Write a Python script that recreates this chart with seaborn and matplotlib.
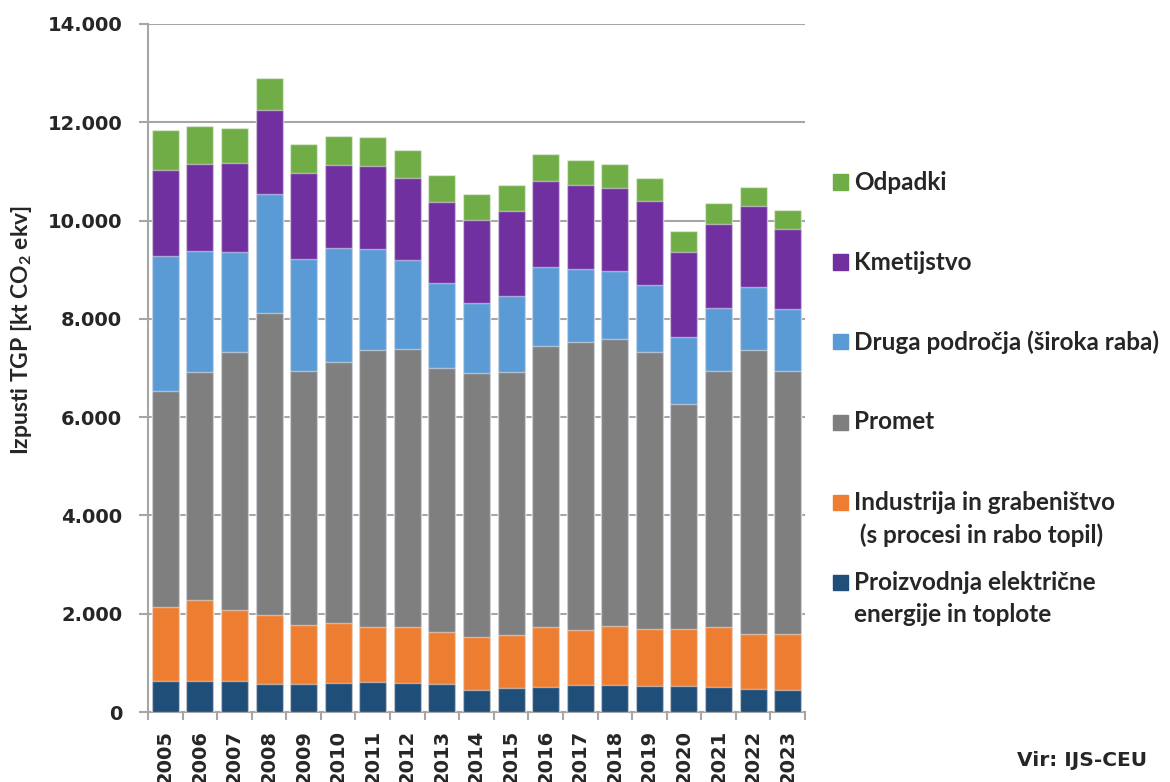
import numpy as np
import pandas as pd
import matplotlib
matplotlib.use("Agg")
import matplotlib.pyplot as plt
import seaborn as sns
from matplotlib.patches import Rectangle
from matplotlib.ticker import FuncFormatter, MultipleLocator

# Data (kt CO2 ekv)
years = [str(y) for y in range(2005, 2024)]
elektrika = [630, 637, 625, 570, 577, 597, 617, 590, 577, 455, 488, 515, 543, 556, 536, 536, 502, 462, 448]
industrija = [1507, 1643, 1455, 1395, 1203, 1223, 1103, 1130, 1053, 1065, 1085, 1215, 1127, 1201, 1159, 1159, 1235, 1118, 1132]
promet = [4389, 4633, 5240, 6161, 5150, 5296, 5653, 5660, 5360, 5370, 5352, 5720, 5850, 5828, 5625, 4565, 5208, 5780, 5350]
druga = [2744, 2477, 2050, 2409, 2295, 2319, 2047, 1810, 1730, 1430, 1540, 1610, 1490, 1390, 1370, 1370, 1270, 1290, 1280]
kmetijstvo = [1750, 1755, 1810, 1725, 1735, 1705, 1700, 1670, 1650, 1700, 1735, 1750, 1710, 1695, 1715, 1725, 1725, 1650, 1620]
odpadki = [820, 775, 710, 650, 590, 575, 580, 577, 550, 515, 530, 540, 520, 480, 465, 440, 410, 380, 380]

# bottom -> top
series_names = [
    "Proizvodnja električne\nenergije in toplote",
    "Industrija in grabeništvo\n (s procesi in rabo topil)",
    "Promet",
    "Druga področja (široka raba)",
    "Kmetijstvo",
    "Odpadki",
]
series_values = [elektrika, industrija, promet, druga, kmetijstvo, odpadki]
colors = ["#1f4e79", "#ed7d31", "#7f7f7f", "#5b9bd5", "#7030a0", "#70ad47"]

sns.set_style("white")
plt.rcParams["font.family"] = ["DejaVu Sans"]
plt.rcParams["mathtext.fontset"] = "custom"
plt.rcParams["mathtext.rm"] = "Lato:bold"
plt.rcParams["mathtext.default"] = "rm"

df = pd.DataFrame(dict(zip(series_names, series_values)), index=years)
cum = df.cumsum(axis=1)

W, H = 1170, 782
fig = plt.figure(figsize=(W / 100, H / 100), dpi=100)
ax = fig.add_axes([148 / W, 1 - 712 / H, (805 - 148) / W, 688 / H])

grid_c = "#a6a6a6"
# stacked bars: draw cumulative sums from the top layer down
for name, c in reversed(list(zip(series_names, colors))):
    sns.barplot(x=years, y=cum[name].values, color=c, saturation=1, width=0.78,
                edgecolor=(1, 1, 1, 0.45), linewidth=1, ax=ax, zorder=3)

ax.set_ylim(0, 14000)
ax.set_xlim(-0.5, len(years) - 0.5)
ax.yaxis.set_major_locator(MultipleLocator(2000))
ax.yaxis.set_major_formatter(FuncFormatter(lambda v, p: f"{v:,.0f}".replace(",", ".")))
ax.grid(axis="y", color=grid_c, linewidth=1.5, zorder=0)
ax.set_axisbelow(True)

for s in ["top", "right"]:
    ax.spines[s].set_visible(False)
for s in ["left", "bottom"]:
    ax.spines[s].set_color(grid_c)
    ax.spines[s].set_linewidth(1.5)

ax.tick_params(axis="y", direction="out", length=6.5, width=1.5, color=grid_c,
               labelsize=14, pad=12, left=True)
for t in ax.get_yticklabels():
    t.set_fontweight("bold")

ax.set_xticks(range(len(years)))
ax.set_xticklabels(years, rotation=90, fontsize=14, fontweight="bold", va="top")
ax.tick_params(axis="x", length=0, pad=13)
ax.set_xticks(np.arange(-0.5, len(years)), minor=True)
ax.tick_params(axis="x", which="minor", direction="out", length=6, width=1.5,
               color=grid_c, bottom=True)
ax.set_xlabel("")

ax.set_ylabel("Izpusti TGP [kt CO$_2$ ekv]", fontsize=16.5, fontweight="bold",
              family="Lato")
ax.yaxis.set_label_coords(-114 / 657, 0.555)

# legend drawn at the right, top entry first
leg_y = [182, 262, 342, 422, 502, 582]
for name, c, yy in zip(reversed(series_names), reversed(colors), leg_y):
    fig.add_artist(Rectangle((833 / W, 1 - (yy + 7.5) / H), 15 / W, 15 / H,
                             transform=fig.transFigure, color=c))
    for i, line in enumerate(name.split("\n")):
        fig.text(854 / W, 1 - (yy + 33 * i) / H, line, fontsize=17.5,
                 fontweight="bold", family="Lato", va="center", ha="left")

fig.text(1147 / W, 1 - 760 / H, "Vir: IJS-CEU", fontsize=14.5, fontweight="bold",
         ha="right", va="center")

fig.savefig("out.png", dpi=100)
